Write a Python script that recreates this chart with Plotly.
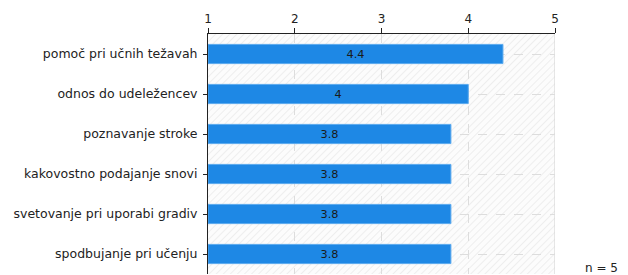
import base64
import plotly.graph_objects as go

categories = ["pomoč pri učnih težavah", "odnos do udeležencev", "poznavanje stroke",
              "kakovostno podajanje snovi", "svetovanje pri uporabi gradiv", "spodbujanje pri učenju"]
values = [4.4, 4.0, 3.8, 3.8, 3.8, 3.8]
value_labels = ["4.4", "4", "3.8", "3.8", "3.8", "3.8"]
x_ticks = [1, 2, 3, 4, 5]
n_label = "n = 5"

x_min, x_max = 1, 5
FONT = "DejaVu Sans, Verdana, sans-serif"

hatch_svg = (
    "<svg xmlns='http://www.w3.org/2000/svg' width='347' height='240'>"
    "<defs><pattern id='h' width='5' height='5' patternUnits='userSpaceOnUse' patternTransform='rotate(45)'>"
    "<rect width='5' height='5' fill='#fcfcfc'/>"
    "<line x1='0' y1='0' x2='0' y2='5' stroke='#ebebeb' stroke-width='1.6'/></pattern></defs>"
    "<rect width='100%' height='100%' fill='url(#h)'/></svg>"
)
hatch_uri = "data:image/svg+xml;base64," + base64.b64encode(hatch_svg.encode()).decode()

fig = go.Figure()

fig.add_trace(go.Bar(
    y=categories, x=[v - x_min for v in values], base=x_min, orientation="h", width=0.48,
    marker=dict(color="#1e88e5", line=dict(color="#5aa9ee", width=1)),
    text=value_labels, textposition="inside", insidetextanchor="middle", textangle=0,
    textfont=dict(color="#1a1a1a", size=12, family=FONT), showlegend=False,
    hoverinfo="skip"))

fig.update_layout(
    width=628, height=275, margin=dict(l=208, r=73, t=34, b=1, autoexpand=False),
    paper_bgcolor="white", plot_bgcolor="rgba(0,0,0,0)", hovermode=False,
    font=dict(family=FONT, size=12, color="#222"),
    xaxis=dict(range=[x_min, x_max], side="top", tickvals=x_ticks, showgrid=True,
               gridcolor="#dddddd", griddash="dash", gridwidth=1, zeroline=False, automargin=False,
               showline=True, linecolor="#222", linewidth=1, ticks="outside", ticklen=5,
               tickcolor="#222", tickfont=dict(size=12, color="#222")),
    yaxis=dict(categoryorder="array", categoryarray=categories,
               range=[len(categories) - 0.5, -0.5], automargin=False,
               showgrid=True, gridcolor="#dddddd", griddash="dash", gridwidth=1,
               zeroline=False, showline=True, linecolor="#222", linewidth=1,
               ticks="outside", ticklen=4, tickcolor="#222", ticklabelstandoff=3,
               tickfont=dict(size=12.5, color="#222")),
    images=[dict(source=hatch_uri, xref="paper", yref="paper", x=0, y=1, sizex=1, sizey=1,
                 xanchor="left", yanchor="top", sizing="stretch", layer="below")],
    shapes=[dict(type="line", xref="x", yref="paper", x0=x_max, x1=x_max, y0=0, y1=1,
                 line=dict(color="#d0d0d0", width=1), layer="below")],
    annotations=[dict(text=n_label, xref="paper", yref="paper", x=1.135, y=0.025,
                      xanchor="center", yanchor="middle", showarrow=False,
                      font=dict(size=12, color="#222"))],
)

fig.write_html("out.html", config={"displayModeBar": False, "staticPlot": True},
               post_script="document.body.style.margin='0';document.body.style.padding='0';")
